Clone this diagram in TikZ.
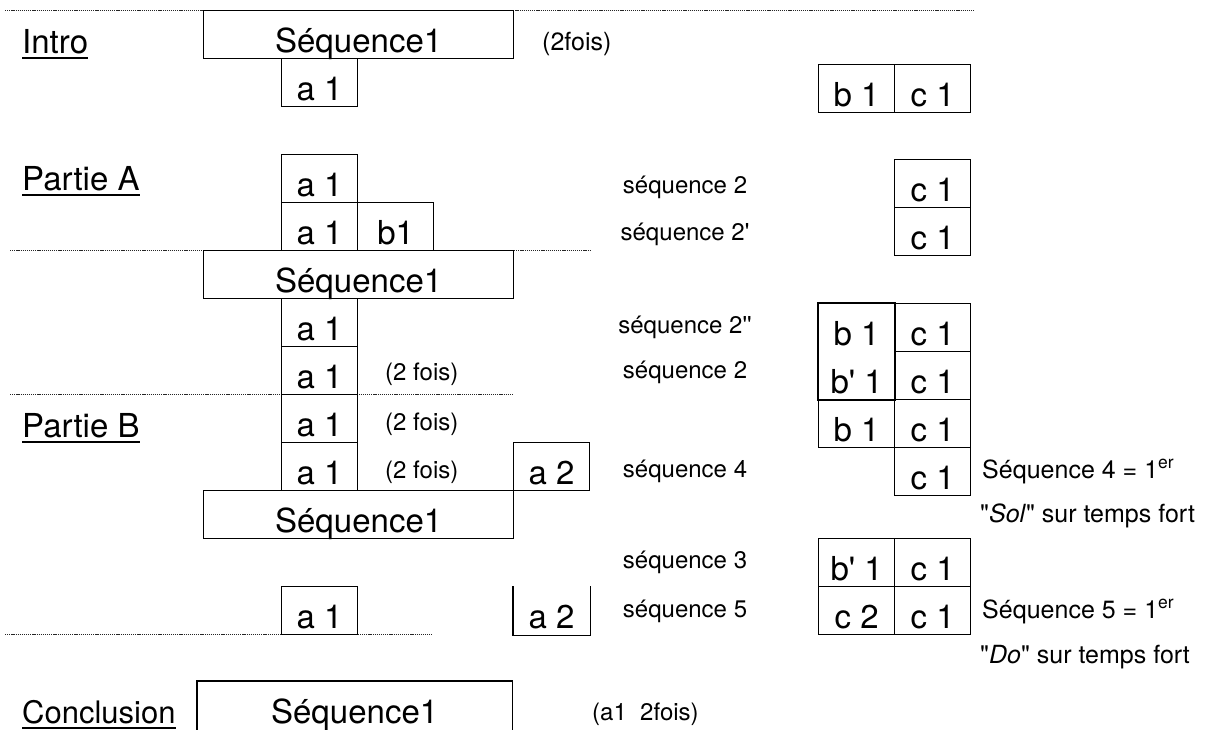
\documentclass[tikz,border=0pt]{standalone}
\usepackage{fontspec}
\setmainfont{TeX Gyre Heros}[Ligatures=TeXOff]
\begin{document}
\begin{tikzpicture}[x=1pt,y=-1pt,
  every node/.style={inner sep=0pt},
  big/.style={font=\fontsize{33}{37}\selectfont},
  small/.style={font=\fontsize{24}{28}\selectfont},
  boxline/.style={line width=1.3pt},
  cell/.style={big, draw, boxline, anchor=north west, minimum width=76pt, text height=42pt, text depth=6pt},
  wide/.style={cell, minimum width=310pt},
  ghost/.style={cell, draw=none},
  sepline/.style={line width=1pt, black!85, dash pattern=on 1.2pt off 0.9pt},
  lbl/.style={small, anchor=base},
  head/.style={big, anchor=base west},
  note/.style={small, anchor=base west},
  notesm/.style={font=\fontsize{25}{29}\selectfont, anchor=base west},
  ul/.style={line width=1.3pt}]
\useasboundingbox (0,0) rectangle (1212,729);

% separators
\coordinate (s1a) at (5,10);   \coordinate (s1b) at (975,10);
\coordinate (s2a) at (10,250); \coordinate (s2b) at (590,250);
\coordinate (s3a) at (10,394); \coordinate (s3b) at (512,394);
\coordinate (s4a) at (5,634);  \coordinate (s4b) at (432,634);
\draw[sepline] (s1a) -- (s1b);
\draw[sepline] (s2a) -- (s2b);
\draw[sepline] (s3a) -- (s3b);
\draw[sepline] (s4a) -- (s4b);

% Intro
\node[head] (intro) at (22,53) {Intro};
\draw[ul] ([yshift=-5pt]intro.base west) -- ([yshift=-5pt]intro.base east);
\node[wide] (seqI) at (203,10) {Séquence1};
\node[notesm] (foisI) at (542,50) {(2fois)};
\node[cell] (aI) at (281,58) {a 1};
\node[cell] (bI) at (818,64) {b 1};
\node[cell] (cI) at (894,64) {c 1};

% Partie A
\node[head] (pA) at (22,190) {Partie A};
\draw[ul] ([yshift=-5pt]pA.base west) -- ([yshift=-5pt]pA.base east);
\node[cell] (aA1) at (281,154) {a 1};
\node[cell] (aA2) at (281,202) {a 1};
\node[cell] (bA2) at (357,202) {b1};
\node[lbl] (sq2) at (685,193) {séquence 2};
\node[lbl] (sq2p) at (685,240) {séquence 2'};
\node[cell] (cA1) at (894,159) {c 1};
\node[cell] (cA2) at (894,207) {c 1};

\node[wide] (seqA) at (203,250) {Séquence1};
\node[cell] (aA3) at (281,298) {a 1};
\node[cell] (aA4) at (281,346) {a 1};
\node[note] (foisA) at (385,380) {(2 fois)};
\node[lbl] (sq2pp) at (685,333) {séquence 2''};
\node[lbl] (sq2b) at (685,378) {séquence 2};
\node[ghost] (bG1) at (818,303) {b 1};
\node[ghost] (bG2) at (818,351) {b' 1};
\draw[boxline] (bG1.north west) rectangle (bG2.south east);
\node[cell] (cG1) at (894,303) {c 1};
\node[cell] (cG2) at (894,351) {c 1};
\node[cell] (bG3) at (818,399) {b 1};
\node[cell] (cG3) at (894,399) {c 1};
\node[cell] (cG4) at (894,447) {c 1};

% Partie B
\node[head] (pB) at (22,437) {Partie B};
\draw[ul] ([yshift=-5pt]pB.base west) -- ([yshift=-5pt]pB.base east);
\node[cell] (aB1) at (281,394) {a 1};
\node[note] (foisB1) at (385,430) {(2 fois)};
\node[cell] (aB2) at (281,442) {a 1};
\node[note] (foisB2) at (385,478) {(2 fois)};
\node[cell] (a2B) at (513,442) {a 2};
\node[lbl] (sq4) at (685,477) {séquence 4};
\node[notesm] (n4a) at (982,478) {Séquence 4 = 1\textsuperscript{er}};
\node[notesm] (n4b) at (980,522) {"\textit{Sol}" sur temps fort};
\node[wide] (seqB) at (203,490) {Séquence1};

\node[lbl] (sq3) at (685,568) {séquence 3};
\node[cell] (b3) at (818,538) {b' 1};
\node[cell] (c3) at (894,538) {c 1};
\node[lbl] (sq5) at (685,617) {séquence 5};
\node[cell] (c25) at (818,586) {c 2};
\node[cell] (c15) at (894,586) {c 1};
\node[notesm] (n5a) at (982,618) {Séquence 5 = 1\textsuperscript{er}};
\node[notesm] (n5b) at (980,663) {"\textit{Do}" sur temps fort};

\node[cell] (aE) at (281,586) {a 1};
\node[ghost] (a2E) at (513,586) {a 2};
\draw[boxline] (a2E.north west) -- (a2E.south west) -- (a2E.south east) -- (a2E.north east);

% Conclusion
\node[head, font=\fontsize{31}{35}\selectfont] (concl) at (22,723) {Conclusion};
\draw[ul] ([yshift=-5pt]concl.base west) -- ([yshift=-5pt]concl.base east);
\node[ghost, minimum width=314pt] (seqC) at (197,681) {Séquence1};
\draw[boxline] (seqC.south west) -- (seqC.north west) -- (seqC.north east) -- (seqC.south east);
\node[note] (foisC) at (592,720) {(a1~~2fois)};
\end{tikzpicture}
\end{document}
